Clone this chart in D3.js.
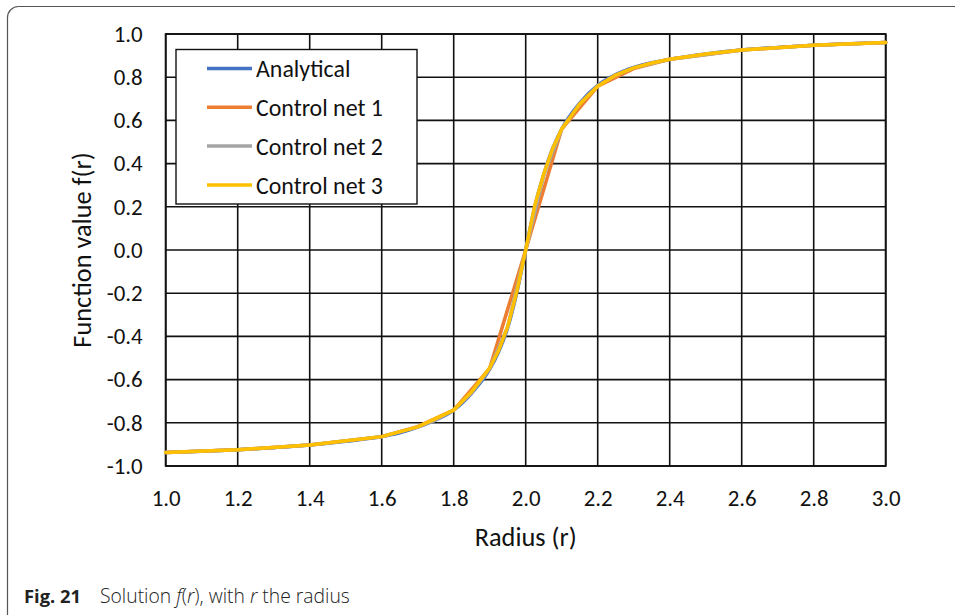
<!DOCTYPE html>
<html>
<head>
<meta charset="utf-8">
<script src="https://cdn.jsdelivr.net/npm/d3@7"></script>
<style>
  html, body { margin: 0; padding: 0; background: #fff; }
  svg { display: block; }
  .lbl { font-family: Calibri, Carlito, Lato, sans-serif; fill: #111; }
  .cap { font-family: "Open Sans", "Noto Sans", sans-serif; fill: #222; }
</style>
</head>
<body>
<svg id="chart" width="955" height="615"></svg>
<script>
// Radius samples and function values for each series
const analyticalR = [1.0, 1.1, 1.2, 1.3, 1.4, 1.5, 1.6, 1.65, 1.7, 1.75, 1.8, 1.85, 1.9, 1.925, 1.95, 1.975,
  2.0, 2.025, 2.05, 2.075, 2.1, 2.15, 2.2, 2.25, 2.3, 2.35, 2.4, 2.5, 2.6, 2.7, 2.8, 2.9, 3.0];
const analyticalF = [-0.937, -0.932, -0.925, -0.915, -0.903, -0.886, -0.864, -0.846, -0.820, -0.787, -0.741, -0.662, -0.552, -0.47, -0.36, -0.20,
  0.0, 0.20, 0.35, 0.47, 0.56, 0.68, 0.762, 0.812, 0.845, 0.867, 0.883, 0.908, 0.926, 0.938, 0.948, 0.955, 0.961];

const net1R = [1.0, 1.2, 1.4, 1.6, 1.7, 1.8, 1.9, 2.0, 2.1, 2.2, 2.3, 2.4, 2.6, 2.8, 3.0];
const net1F = [-0.937, -0.925, -0.903, -0.864, -0.818, -0.741, -0.548, 0.0, 0.56, 0.758, 0.84, 0.883, 0.926, 0.948, 0.961];

const net2R = [1.0, 1.2, 1.4, 1.6, 1.7, 1.75, 1.8, 1.85, 1.9, 1.95, 2.0, 2.05, 2.1, 2.15, 2.2, 2.25, 2.3, 2.4, 2.6, 2.8, 3.0];
const net2F = [-0.937, -0.925, -0.903, -0.864, -0.819, -0.787, -0.741, -0.660, -0.550, -0.355, 0.0, 0.345, 0.56, 0.676, 0.76, 0.81, 0.843, 0.883, 0.926, 0.948, 0.961];

const net3R = [1.0, 1.2, 1.4, 1.6, 1.7, 1.8, 1.85, 1.9, 1.925, 1.95, 1.975, 2.0, 2.025, 2.05, 2.075, 2.1, 2.15, 2.2, 2.25, 2.3, 2.35, 2.4, 2.5, 2.6, 2.8, 3.0];
const net3F = [-0.937, -0.925, -0.903, -0.864, -0.819, -0.741, -0.656, -0.545, -0.465, -0.355, -0.195, 0.0, 0.205, 0.352, 0.47, 0.56, 0.676, 0.758, 0.81, 0.843, 0.866, 0.883, 0.907, 0.926, 0.948, 0.961];

const seriesNames = ["Analytical", "Control net 1", "Control net 2", "Control net 3"];
const seriesColors = ["#4472C4", "#ED7D31", "#A5A5A5", "#FFC000"];

const xTicks = [1.0, 1.2, 1.4, 1.6, 1.8, 2.0, 2.2, 2.4, 2.6, 2.8, 3.0];
const yTicks = [-1.0, -0.8, -0.6, -0.4, -0.2, 0.0, 0.2, 0.4, 0.6, 0.8, 1.0];

const xTitle = "Radius (r)";
const yTitle = "Function value f(r)";

const svg = d3.select("#chart");

// size a text node so that its advance width equals the given width
function fitWidth(sel, width) {
  const node = sel.node();
  sel.style("font-size", "20px");
  const w = node.getComputedTextLength();
  const size = 20 * width / w;
  sel.style("font-size", size + "px");
  return size;
}

// outer rounded frame
svg.append("rect")
  .attr("x", 7.5).attr("y", 6.5)
  .attr("width", 1000).attr("height", 640)
  .attr("rx", 11).attr("ry", 11)
  .attr("fill", "none").attr("stroke", "#555").attr("stroke-width", 1.2);

const plot = { left: 165.7, right: 885.7, top: 34, bottom: 466 };

const x = d3.scaleLinear().domain([1.0, 3.0]).range([plot.left, plot.right]);
const y = d3.scaleLinear().domain([-1.0, 1.0]).range([plot.bottom, plot.top]);

// grid lines
const grid = svg.append("g");
grid.selectAll("line.v").data(xTicks).join("line")
  .attr("x1", d => x(d)).attr("x2", d => x(d))
  .attr("y1", plot.top).attr("y2", plot.bottom)
  .attr("stroke", "#111").attr("stroke-width", 1.6);
grid.selectAll("line.h").data(yTicks).join("line")
  .attr("y1", d => y(d)).attr("y2", d => y(d))
  .attr("x1", plot.left).attr("x2", plot.right)
  .attr("stroke", "#111").attr("stroke-width", 1.6);
grid.append("rect")
  .attr("x", plot.left).attr("y", plot.top)
  .attr("width", plot.right - plot.left).attr("height", plot.bottom - plot.top)
  .attr("fill", "none").attr("stroke", "#111").attr("stroke-width", 1.8);

// tick label size: "1.0" spans about 29px
const probe = svg.append("text").attr("class", "lbl").text("1.0");
const tickSize = fitWidth(probe, 29);
probe.remove();

const fmt = d => d.toFixed(1);
const xAxis = d3.axisBottom(x).tickValues(xTicks).tickFormat(fmt).tickSize(0).tickPadding(24);
const yAxis = d3.axisLeft(y).tickValues(yTicks).tickFormat(fmt).tickSize(0).tickPadding(23);

const gx = svg.append("g").attr("transform", `translate(0,${plot.bottom})`).call(xAxis);
const gy = svg.append("g").attr("transform", `translate(${plot.left},0)`).call(yAxis);
[gx, gy].forEach(g => {
  g.select(".domain").remove();
  g.selectAll("text").attr("class", "lbl").style("font-size", tickSize + "px");
});

// axis titles
const xt = svg.append("text").attr("class", "lbl")
  .attr("x", x(2.0)).attr("y", 546)
  .attr("text-anchor", "middle")
  .text(xTitle);
const titleSize = fitWidth(xt, 102);
svg.append("text").attr("class", "lbl")
  .attr("transform", `translate(91,${y(0)}) rotate(-90)`)
  .attr("text-anchor", "middle").style("font-size", titleSize + "px")
  .text(yTitle);

// series lines
const seriesData = [
  analyticalR.map((r, i) => [r, analyticalF[i]]),
  net1R.map((r, i) => [r, net1F[i]]),
  net2R.map((r, i) => [r, net2F[i]]),
  net3R.map((r, i) => [r, net3F[i]])
];
const line = d3.line().x(d => x(d[0])).y(d => y(d[1]));
const smooth = d3.line().x(d => x(d[0])).y(d => y(d[1])).curve(d3.curveMonotoneX);

svg.append("g").selectAll("path").data(seriesData).join("path")
  .attr("d", (d, i) => i === 0 ? smooth(d) : line(d))
  .attr("fill", "none")
  .attr("stroke", (d, i) => seriesColors[i])
  .attr("stroke-width", 3.5)
  .attr("stroke-linejoin", "round")
  .attr("stroke-linecap", "round");

// legend
const legend = svg.append("g");
legend.append("rect")
  .attr("x", 176).attr("y", 49.5).attr("width", 241).attr("height", 154.5)
  .attr("fill", "#fff").attr("stroke", "#111").attr("stroke-width", 1.4);
const rowY = [68.5, 107.3, 146, 185];
const lp = svg.append("text").attr("class", "lbl").text(seriesNames[1]);
const legendSize = fitWidth(lp, 127);
lp.remove();
seriesNames.forEach((name, i) => {
  legend.append("line")
    .attr("x1", 207).attr("x2", 252)
    .attr("y1", rowY[i]).attr("y2", rowY[i])
    .attr("stroke", seriesColors[i]).attr("stroke-width", 3.5);
  legend.append("text").attr("class", "lbl")
    .attr("x", 256).attr("y", rowY[i]).attr("dy", "0.36em")
    .style("font-size", legendSize + "px")
    .text(name);
});

// caption
const fig = svg.append("text").attr("class", "cap")
  .attr("x", 24).attr("y", 603).attr("font-weight", "bold").text("Fig. 21");
fitWidth(fig, 57);
const cap = svg.append("text").attr("class", "cap")
  .attr("x", 100).attr("y", 603).attr("font-weight", 300);
cap.append("tspan").text("Solution ");
cap.append("tspan").attr("font-style", "italic").text("f");
cap.append("tspan").text("(");
cap.append("tspan").attr("font-style", "italic").text("r");
cap.append("tspan").text("), with ");
cap.append("tspan").attr("font-style", "italic").text("r");
cap.append("tspan").text(" the radius");
fitWidth(cap, 250);
</script>
</body>
</html>
